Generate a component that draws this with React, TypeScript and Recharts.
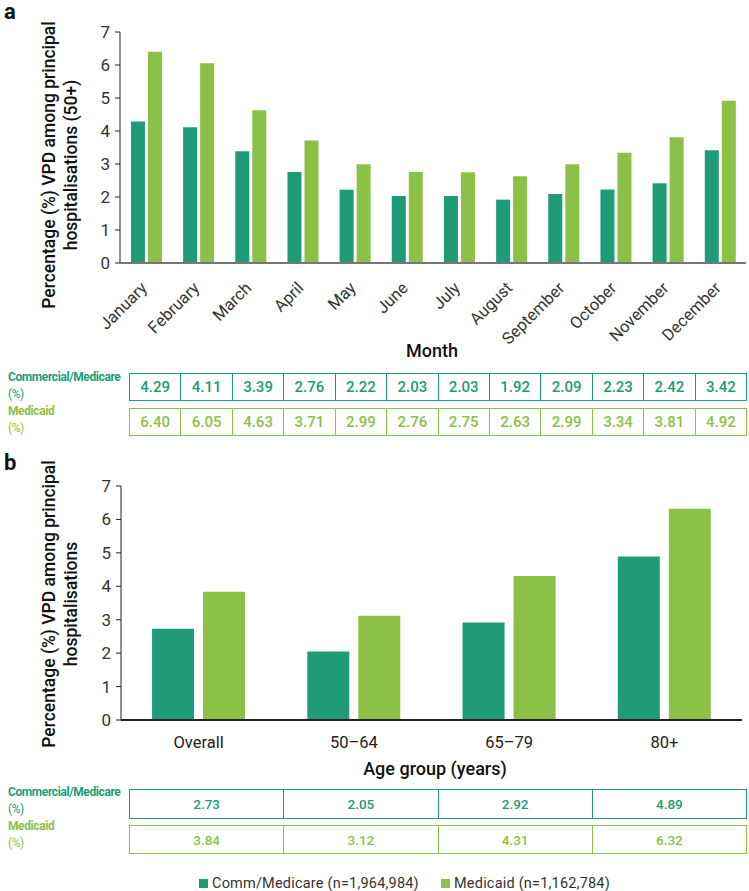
import React from "react";
import { BarChart, Bar, XAxis, YAxis } from "recharts";

const months = [
  "January", "February", "March", "April", "May", "June",
  "July", "August", "September", "October", "November", "December",
];
const commMonthly = [4.29, 4.11, 3.39, 2.76, 2.22, 2.03, 2.03, 1.92, 2.09, 2.23, 2.42, 3.42];
const medicaidMonthly = [6.4, 6.05, 4.63, 3.71, 2.99, 2.76, 2.75, 2.63, 2.99, 3.34, 3.81, 4.92];

const ageGroups = ["Overall", "50–64", "65–79", "80+"];
const commAge = [2.73, 2.05, 2.92, 4.89];
const medicaidAge = [3.84, 3.12, 4.31, 6.32];

const yTicks = [0, 1, 2, 3, 4, 5, 6, 7];

const DARK = "#1f9b78";
const LIGHT = "#8bc146";
const FONT = "Roboto, sans-serif";

const monthData = months.map((m, i) => ({ name: m, comm: commMonthly[i], medicaid: medicaidMonthly[i] }));
const ageData = ageGroups.map((g, i) => ({ name: g, comm: commAge[i], medicaid: medicaidAge[i] }));

const MonthTick = (props: any) => {
  const { x, y, payload } = props;
  const tx = x + 2;
  const ty = y + 18;
  return (
    <text
      x={tx}
      y={ty}
      transform={`rotate(-45 ${tx} ${ty})`}
      textAnchor="end"
      fontSize={16.5}
      fill="#333"
      fontFamily={FONT}
    >
      {payload.value}
    </text>
  );
};

const AgeTick = (props: any) => {
  const { x, y, payload } = props;
  return (
    <text x={x} y={y + 20} textAnchor="middle" fontSize={16.5} fill="#222" fontFamily={FONT}>
      {payload.value}
    </text>
  );
};

const YLabel = ({ cx, cy, lines }: { cx: number; cy: number; lines: string[] }) => (
  <g transform={`translate(${cx} ${cy}) rotate(-90)`}>
    {lines.map((l, i) => (
      <text
        key={l}
        x={0}
        y={i * 22}
        textAnchor="middle"
        fontSize={17.5}
        fontWeight={500}
        fill="#111"
        fontFamily={FONT}
      >
        {l}
      </text>
    ))}
  </g>
);

const TableRow = ({ values, color, top, height, fontSize }: any) => (
  <div
    style={{
      position: "absolute",
      left: 129,
      top,
      width: 618,
      height,
      display: "flex",
      border: `1.5px solid ${color}`,
      boxSizing: "border-box",
    }}
  >
    {values.map((v: number, i: number) => (
      <div
        key={i}
        style={{
          flex: 1,
          borderLeft: i === 0 ? "none" : `1.5px solid ${color}`,
          color,
          fontSize,
          fontWeight: 500,
          display: "flex",
          alignItems: "center",
          justifyContent: "center",
        }}
      >
        {v.toFixed(2)}
      </div>
    ))}
  </div>
);

const RowLabel = ({ text, color, top }: any) => (
  <div
    style={{
      position: "absolute",
      left: 8,
      top,
      color,
      fontSize: 12,
      letterSpacing: -0.4,
      lineHeight: "17px",
      fontWeight: 700,
    }}
  >
    {text}
    <br />
    <span style={{ fontWeight: 400 }}>(%)</span>
  </div>
);

export default function App() {
  return (
    <div
      style={{
        position: "absolute",
        left: 0,
        top: 0,
        width: 749,
        height: 891,
        background: "#fff",
        fontFamily: FONT,
      }}
    >
      <div style={{ position: "absolute", left: 0, top: 0 }}>
        <BarChart
          width={749}
          height={365}
          data={monthData}
          margin={{ top: 32, right: 3, left: 0, bottom: 0 }}
          barCategoryGap="21%"
          barGap={3}
        >
          <YAxis
            width={120}
            domain={[0, 7]}
            ticks={yTicks}
            interval={0}
            tickSize={5}
            tickMargin={5}
            axisLine={{ stroke: "#222" }}
            tickLine={{ stroke: "#222" }}
            tick={{ fontSize: 17, fill: "#333", fontFamily: FONT }}
          />
          <XAxis
            dataKey="name"
            interval={0}
            height={102}
            axisLine={{ stroke: "#777", strokeWidth: 2 }}
            tickLine={false}
            tick={<MonthTick />}
          />
          <Bar dataKey="comm" fill={DARK} isAnimationActive={false} />
          <Bar dataKey="medicaid" fill={LIGHT} isAnimationActive={false} />
        </BarChart>
      </div>

      <div style={{ position: "absolute", left: 0, top: 450 }}>
        <BarChart
          width={749}
          height={310}
          data={ageData}
          margin={{ top: 36, right: 7, left: 0, bottom: 0 }}
          barCategoryGap="20%"
          barGap={9}
        >
          <YAxis
            width={121}
            domain={[0, 7]}
            ticks={yTicks}
            interval={0}
            tickSize={5}
            tickMargin={5}
            axisLine={{ stroke: "#222" }}
            tickLine={{ stroke: "#222" }}
            tick={{ fontSize: 17, fill: "#333", fontFamily: FONT }}
          />
          <XAxis
            dataKey="name"
            interval={0}
            height={40}
            axisLine={{ stroke: "#222", strokeWidth: 2 }}
            tickLine={false}
            tick={<AgeTick />}
          />
          <Bar dataKey="comm" fill={DARK} isAnimationActive={false} />
          <Bar dataKey="medicaid" fill={LIGHT} isAnimationActive={false} />
        </BarChart>
      </div>

      <svg width={749} height={891} style={{ position: "absolute", left: 0, top: 0, pointerEvents: "none" }}>
        <text x={4} y={19} fontSize={22} fontWeight={700} fill="#111" fontFamily={FONT}>a</text>
        <text x={4} y={470} fontSize={22} fontWeight={700} fill="#111" fontFamily={FONT}>b</text>
        <YLabel cx={55} cy={165} lines={["Percentage (%) VPD among principal", "hospitalisations (50+)"]} />
        <YLabel cx={55} cy={604} lines={["Percentage (%) VPD among principal", "hospitalisations"]} />
        <text x={432} y={357} textAnchor="middle" fontSize={18} fontWeight={500} fill="#111" fontFamily={FONT}>Month</text>
        <text x={435} y={775} textAnchor="middle" fontSize={18} fontWeight={500} fill="#111" fontFamily={FONT}>Age group (years)</text>
        <rect x={199} y={879} width={9} height={9} fill={DARK} />
        <text x={212} y={888} fontSize={14.5} letterSpacing={0.2} fill="#333" fontFamily={FONT}>Comm/Medicare (n=1,964,984)</text>
        <rect x={441} y={879} width={9} height={9} fill={LIGHT} />
        <text x={454} y={888} fontSize={14.5} letterSpacing={0.2} fill="#333" fontFamily={FONT}>Medicaid (n=1,162,784)</text>
      </svg>

      <RowLabel text="Commercial/Medicare" color={DARK} top={369} />
      <RowLabel text="Medicaid" color={LIGHT} top={403} />
      <TableRow values={commMonthly} color={DARK} top={373} height={28} fontSize={15} />
      <TableRow values={medicaidMonthly} color={LIGHT} top={408} height={28} fontSize={15} />

      <RowLabel text="Commercial/Medicare" color={DARK} top={784} />
      <RowLabel text="Medicaid" color={LIGHT} top={818} />
      <TableRow values={commAge} color={DARK} top={789} height={30} fontSize={13.5} />
      <TableRow values={medicaidAge} color={LIGHT} top={825} height={29} fontSize={13.5} />
    </div>
  );
}
